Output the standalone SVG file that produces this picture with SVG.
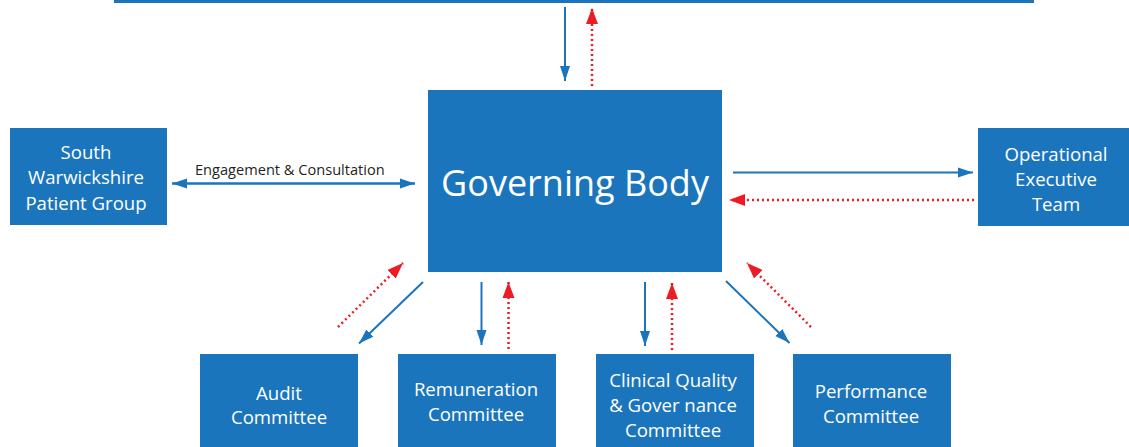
<svg xmlns="http://www.w3.org/2000/svg" width="1129" height="447" viewBox="0 0 1129 447">
  <style>
    .box { fill: #1b75bc; }
    .lbl { font-family: "Open Sans", "Liberation Sans", sans-serif; fill: #ffffff; text-anchor: middle; font-size: 18.6px; }
    .title { font-family: "Open Sans", "Liberation Sans", sans-serif; fill: #ffffff; text-anchor: middle; font-size: 36px; }
    .note { font-family: "Open Sans", "Liberation Sans", sans-serif; fill: #231f20; font-size: 14.6px; }
    .down { stroke: #1b75bc; stroke-width: 2; fill: none; marker-end: url(#blueHead); }
    .both { stroke: #1b75bc; stroke-width: 2.5; fill: none; marker-end: url(#blueHead); marker-start: url(#blueTail); }
    .up { stroke: #ed1c24; stroke-width: 2.5; stroke-dasharray: 2 3; fill: none; marker-end: url(#redHead); }
  </style>
  <defs>
    <marker id="blueHead" markerUnits="userSpaceOnUse" markerWidth="16" markerHeight="12" refX="15" refY="6" orient="auto">
      <path d="M0,1 L15,6 L0,11 z" fill="#1b75bc"/>
    </marker>
    <marker id="blueTail" markerUnits="userSpaceOnUse" markerWidth="16" markerHeight="12" refX="0" refY="6" orient="auto">
      <path d="M15,1 L0,6 L15,11 z" fill="#1b75bc"/>
    </marker>
    <marker id="redHead" markerUnits="userSpaceOnUse" markerWidth="17" markerHeight="14" refX="16" refY="7" orient="auto">
      <path d="M0,1 L16,7 L0,13 z" fill="#ed1c24"/>
    </marker>
  </defs>

  <!-- upper body (edge visible at top) -->
  <g id="top-body">
    <rect class="box" x="114" y="0" width="920" height="3"/>
  </g>

  <g id="governing-body">
    <rect class="box" x="428" y="90" width="294" height="182"/>
    <text class="title" x="575" y="196">Governing Body</text>
  </g>

  <g id="patient-group">
    <rect class="box" x="10" y="128" width="157" height="97"/>
    <text class="lbl" x="86" y="159">South</text>
    <text class="lbl" x="86" y="184">Warwickshire</text>
    <text class="lbl" x="86" y="210">Patient Group</text>
  </g>

  <g id="operational-executive">
    <rect class="box" x="978" y="128" width="151" height="98"/>
    <text class="lbl" x="1056" y="161">Operational</text>
    <text class="lbl" x="1056" y="186">Executive</text>
    <text class="lbl" x="1056" y="211">Team</text>
  </g>

  <g id="audit">
    <rect class="box" x="200" y="354" width="158" height="93"/>
    <text class="lbl" x="279" y="400">Audit</text>
    <text class="lbl" x="279" y="424">Committee</text>
  </g>

  <g id="remuneration">
    <rect class="box" x="398" y="354" width="158" height="93"/>
    <text class="lbl" x="476" y="396">Remuneration</text>
    <text class="lbl" x="476" y="421">Committee</text>
  </g>

  <g id="clinical-quality">
    <rect class="box" x="596" y="354" width="158" height="93"/>
    <text class="lbl" x="673" y="387">Clinical Quality</text>
    <text class="lbl" x="673" y="412">&amp; Gover nance</text>
    <text class="lbl" x="673" y="437">Committee</text>
  </g>

  <g id="performance">
    <rect class="box" x="793" y="354" width="158" height="93"/>
    <text class="lbl" x="871" y="398">Performance</text>
    <text class="lbl" x="871" y="423">Committee</text>
  </g>

  <g id="connectors">
    <!-- top link -->
    <line class="down" x1="565" y1="7" x2="565" y2="81"/>
    <line class="up" x1="592" y1="86" x2="592" y2="8"/>
    <!-- engagement -->
    <line class="both" x1="172" y1="183.5" x2="415" y2="183.5"/>
    <text class="note" x="195" y="175">Engagement &amp; Consultation</text>
    <!-- operational executive -->
    <line class="down" x1="733" y1="172.5" x2="973" y2="172.5"/>
    <line class="up" x1="974" y1="200" x2="729" y2="200"/>
    <!-- audit -->
    <line class="up" x1="338" y1="327" x2="403" y2="263"/>
    <line class="down" x1="423" y1="282" x2="359" y2="343.5"/>
    <!-- remuneration -->
    <line class="down" x1="481.5" y1="282" x2="481.5" y2="345"/>
    <line class="up" x1="508.5" y1="349" x2="508.5" y2="282"/>
    <!-- clinical quality -->
    <line class="down" x1="645" y1="282" x2="645" y2="346"/>
    <line class="up" x1="672" y1="350" x2="672" y2="283"/>
    <!-- performance -->
    <line class="down" x1="726" y1="281" x2="789.5" y2="343"/>
    <line class="up" x1="811" y1="327" x2="747" y2="263"/>
  </g>
</svg>
